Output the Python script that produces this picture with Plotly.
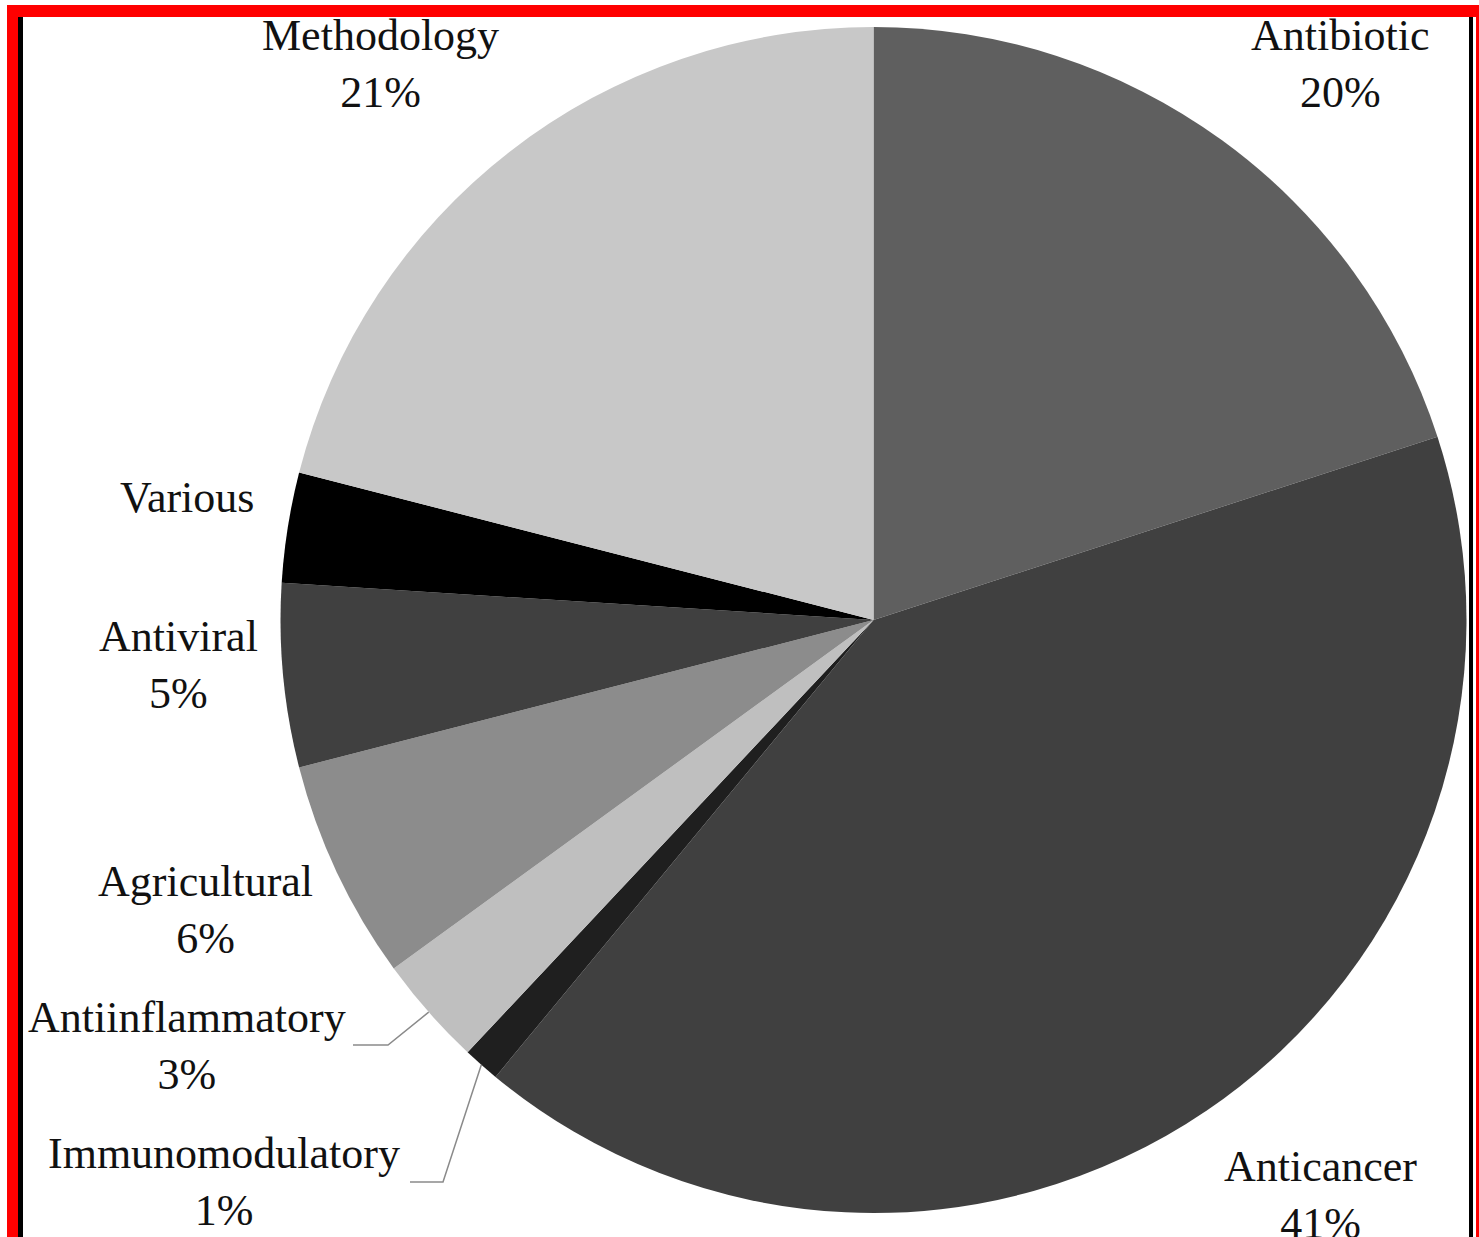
import math
import plotly.graph_objects as go

# Share of publications by application area
categories = ["Antibiotic", "Anticancer", "Immunomodulatory", "Antiinflammatory",
              "Agricultural", "Antiviral", "Various", "Methodology"]
shares = [20, 41, 1, 3, 6, 5, 3, 21]
show_pct = [True, True, True, True, True, True, False, True]
colors = ["#5f5f5f", "#404040", "#1f1f1f", "#bfbfbf",
          "#8c8c8c", "#404040", "#000000", "#c8c8c8"]

W, H = 1479, 1237
CX, CY, R = 873.5, 620.0, 593.0          # pie centre / radius in pixels

# label block centres (pixels) and leader elbows for the narrow slices
label_pos = {
    "Antibiotic": (1340, 64),
    "Anticancer": (1320, 1195),
    "Immunomodulatory": (224, 1182),
    "Antiinflammatory": (187, 1046),
    "Agricultural": (205, 910),
    "Antiviral": (178, 665),
    "Various": (187, 498),
    "Methodology": (380, 64),
}
leader_elbow = {
    "Antiinflammatory": [(388, 1045), (353, 1045)],
    "Immunomodulatory": [(443, 1182), (410, 1182)],
}


def px(x):
    return x / W


def py(y):
    return 1 - y / H


fig = go.Figure(go.Pie(
    labels=categories,
    values=shares,
    sort=False,
    direction="clockwise",
    rotation=0,
    marker=dict(colors=colors, line=dict(width=0)),
    textinfo="none",
    hoverinfo="label+percent",
    showlegend=False,
    domain=dict(x=[px(CX - R), px(CX + R)], y=[py(CY + R), py(CY - R)]),
))

annotations = []
for name, val, pct in zip(categories, shares, show_pct):
    x, y = label_pos[name]
    text = f"{name}<br>{val}%" if pct else name
    annotations.append(dict(
        text=text, x=px(x), y=py(y), xref="paper", yref="paper",
        xanchor="center", yanchor="middle", showarrow=False,
        font=dict(family="'Liberation Serif', 'Times New Roman', serif",
                  size=44, color="#111111"),
    ))

shapes = []
# leader lines from the middle of the thin slices to their labels
total = sum(shares)
cum = 0
for name, val in zip(categories, shares):
    mid = (cum + val / 2) / total * 2 * math.pi
    cum += val
    if name in leader_elbow:
        sx = CX + R * math.sin(mid)
        sy = CY - R * math.cos(mid)
        pts = [(sx, sy)] + leader_elbow[name]
        path = "M " + " L ".join(f"{px(a):.5f},{py(b):.5f}" for a, b in pts)
        shapes.append(dict(type="path", path=path, xref="paper", yref="paper",
                           line=dict(color="#8a8a8a", width=1.5)))

# page frame
shapes += [
    dict(type="rect", xref="paper", yref="paper", x0=px(7), x1=px(18), y0=0, y1=py(5),
         fillcolor="red", line=dict(width=0)),
    dict(type="rect", xref="paper", yref="paper", x0=px(7), x1=1, y0=py(17), y1=py(5),
         fillcolor="red", line=dict(width=0)),
    dict(type="rect", xref="paper", yref="paper", x0=px(1476), x1=1, y0=0, y1=py(5),
         fillcolor="red", line=dict(width=0)),
    dict(type="rect", xref="paper", yref="paper", x0=px(18), x1=px(23), y0=0, y1=py(17),
         fillcolor="black", line=dict(width=0)),
    dict(type="rect", xref="paper", yref="paper", x0=px(1469), x1=px(1473), y0=0, y1=py(17),
         fillcolor="black", line=dict(width=0)),
]

fig.update_layout(
    width=W, height=H,
    margin=dict(l=0, r=0, t=0, b=0),
    paper_bgcolor="white", plot_bgcolor="white",
    annotations=annotations, shapes=shapes,
)

fig.write_html("out.html")
